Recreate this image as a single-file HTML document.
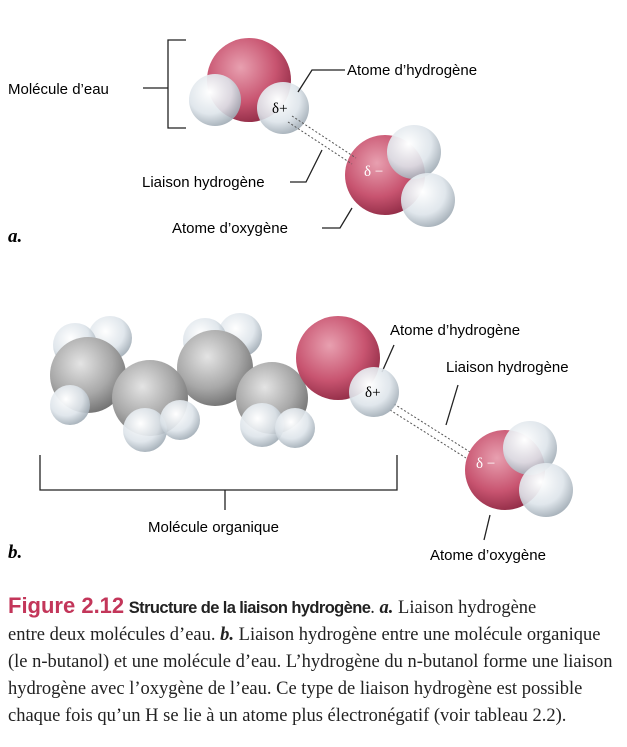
<!DOCTYPE html>
<html><head><meta charset="utf-8"><style>
body{margin:0;background:#fff;width:627px;height:747px;overflow:hidden;position:relative}
svg{position:absolute;left:0;top:0}
.cap{position:absolute;left:8px;top:592px;width:640px;white-space:nowrap;font-family:"Liberation Serif",serif;font-size:18.5px;line-height:27px;color:#222}
.fig{font-family:"Liberation Sans",sans-serif;font-weight:bold;color:#c3365a;font-size:22px}
.st{font-family:"Liberation Sans",sans-serif;font-weight:bold;font-size:16.5px;letter-spacing:-0.6px}
</style></head><body>
<svg width="627" height="590" font-family="Liberation Sans, sans-serif" font-size="15">
<defs>
<radialGradient id="r" cx="0.4" cy="0.35" r="0.7"><stop offset="0" stop-color="#e8a0b0"/><stop offset="0.6" stop-color="#c85470"/><stop offset="1" stop-color="#8e2a44"/></radialGradient>
<radialGradient id="w" cx="0.4" cy="0.35" r="0.7"><stop offset="0" stop-color="#ffffff"/><stop offset="0.6" stop-color="#dde4ea" stop-opacity="0.9"/><stop offset="1" stop-color="#98a4ae" stop-opacity="0.9"/></radialGradient>
<radialGradient id="g" cx="0.4" cy="0.35" r="0.7"><stop offset="0" stop-color="#e4e4e4"/><stop offset="0.6" stop-color="#a8a8a8"/><stop offset="1" stop-color="#6e6e6e"/></radialGradient>
</defs>
<g>
<circle cx="249" cy="80" r="42" fill="url(#r)"/>
<circle cx="215" cy="100" r="26" fill="url(#w)"/>
<circle cx="283" cy="108" r="26" fill="url(#w)"/>
<text x="272" y="113" font-family="Liberation Serif,serif" font-size="15">δ+</text>
</g>
<g>
<circle cx="385" cy="175" r="40" fill="url(#r)"/>
<circle cx="414" cy="152" r="27" fill="url(#w)"/>
<circle cx="428" cy="200" r="27" fill="url(#w)"/>
<text x="364" y="176" font-family="Liberation Serif,serif" font-size="15" fill="#fff">δ −</text>
</g>
<g stroke="#555" fill="none" stroke-width="1" stroke-dasharray="2,2">
<line x1="292" y1="116" x2="356" y2="158"/><line x1="288" y1="122" x2="352" y2="164"/>
<line x1="394" y1="404" x2="470" y2="452"/><line x1="390" y1="410" x2="466" y2="458"/>
</g>
<g stroke="#222" fill="none" stroke-width="1.3">
<path d="M186 40H168V128H186"/><line x1="143" y1="88" x2="168" y2="88"/>
<path d="M345 70H312L298 92"/>
<path d="M290 182H306L322 150"/>
<path d="M322 228H340L352 208"/>
<path d="M40 455V490H397V455M225 490V510"/>
<path d="M394 345L382 372"/>
<path d="M458 385L446 425"/>
<path d="M484 540L490 515"/>
</g>
<text x="8" y="94">Molécule d’eau</text>
<text x="347" y="75">Atome d’hydrogène</text>
<text x="142" y="187">Liaison hydrogène</text>
<text x="172" y="233">Atome d’oxygène</text>
<text x="8" y="242" font-family="Liberation Serif,serif" font-style="italic" font-weight="bold" font-size="19">a.</text>
<g>
<circle cx="110" cy="338" r="22" fill="url(#w)"/><circle cx="75" cy="345" r="22" fill="url(#w)"/>
<circle cx="240" cy="335" r="22" fill="url(#w)"/><circle cx="205" cy="340" r="22" fill="url(#w)"/>
<circle cx="88" cy="375" r="38" fill="url(#g)"/>
<circle cx="215" cy="368" r="38" fill="url(#g)"/>
<circle cx="150" cy="398" r="38" fill="url(#g)"/>
<circle cx="272" cy="398" r="36" fill="url(#g)"/>
<circle cx="70" cy="405" r="20" fill="url(#w)"/>
<circle cx="145" cy="430" r="22" fill="url(#w)"/><circle cx="180" cy="420" r="20" fill="url(#w)"/>
<circle cx="262" cy="425" r="22" fill="url(#w)"/><circle cx="295" cy="428" r="20" fill="url(#w)"/>
<circle cx="338" cy="358" r="42" fill="url(#r)"/>
<circle cx="374" cy="392" r="25" fill="url(#w)"/>
<text x="365" y="397" font-family="Liberation Serif,serif" font-size="15">δ+</text>
</g>
<g>
<circle cx="505" cy="470" r="40" fill="url(#r)"/>
<circle cx="530" cy="448" r="27" fill="url(#w)"/>
<circle cx="546" cy="490" r="27" fill="url(#w)"/>
<text x="476" y="468" font-family="Liberation Serif,serif" font-size="15" fill="#fff">δ −</text>
</g>
<text x="390" y="335">Atome d’hydrogène</text>
<text x="446" y="372">Liaison hydrogène</text>
<text x="148" y="532">Molécule organique</text>
<text x="430" y="560">Atome d’oxygène</text>
<text x="8" y="558" font-family="Liberation Serif,serif" font-style="italic" font-weight="bold" font-size="19">b.</text>
</svg>
<div class="cap"><span class="fig">Figure 2.12</span> <span class="st">Structure de la liaison hydrogène</span>. <b><i>a.</i></b> Liaison hydrogène<br>entre deux molécules d’eau. <b><i>b.</i></b> Liaison hydrogène entre une molécule organique<br>(le n-butanol) et une molécule d’eau. L’hydrogène du n-butanol forme une liaison<br>hydrogène avec l’oxygène de l’eau. Ce type de liaison hydrogène est possible<br>chaque fois qu’un H se lie à un atome plus électronégatif (voir tableau 2.2).</div>
</body></html>
